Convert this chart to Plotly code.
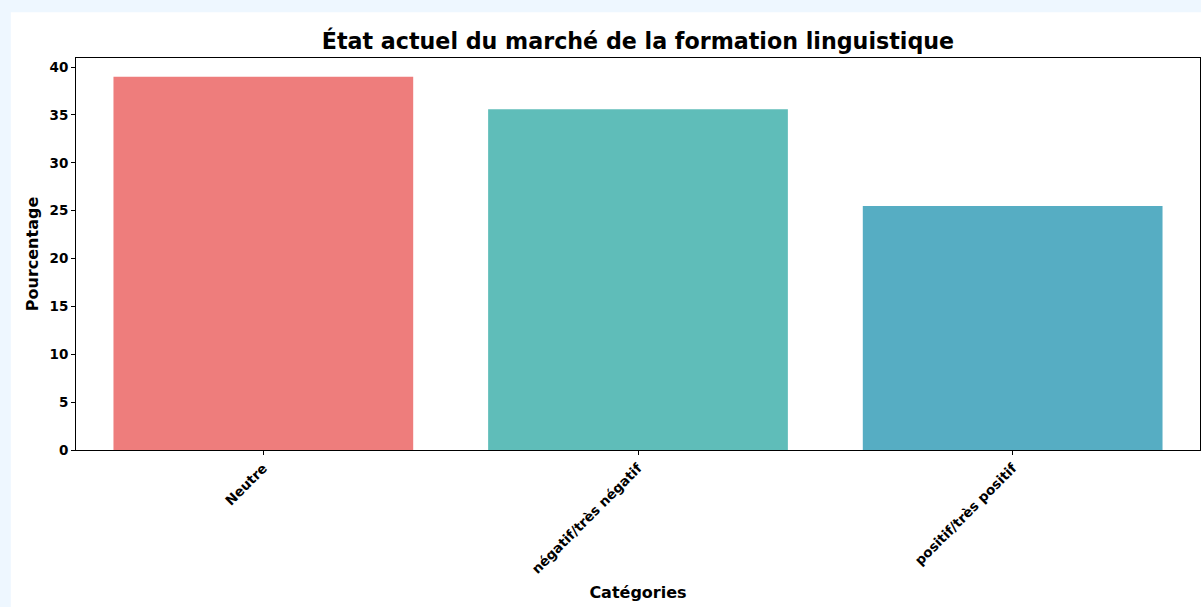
import plotly.graph_objects as go

categories = ['Neutre', 'négatif/très négatif', 'positif/très positif']
percentages = [39.0, 35.6, 25.5]
bar_colors = ['#EE7D7C', '#5FBDB9', '#56ADC3']
y_ticks = [0, 5, 10, 15, 20, 25, 30, 35, 40]

font_family = 'DejaVu Sans'
page_bg = '#EEF7FF'

fig = go.Figure([
    go.Bar(x=categories, y=percentages,
           marker=dict(color=bar_colors, line=dict(width=0)),
           width=0.8)
])

# white figure area on a light blue page
fig.add_shape(type='rect', xref='paper', yref='paper',
              x0=-0.058, x1=1.1, y0=-0.5, y1=1.117,
              fillcolor='white', line=dict(width=0), layer='below')

fig.update_layout(
    width=1201, height=607,
    margin=dict(l=76, r=1, t=58, b=157),
    paper_bgcolor=page_bg,
    plot_bgcolor='white',
    showlegend=False,
    font=dict(family=font_family, color='black'),
    title=dict(text='<b>État actuel du marché de la formation linguistique</b>',
               font=dict(size=22.2, family=font_family, color='black'),
               x=0.5312, xanchor='center', y=0.9325, yanchor='middle'),
    xaxis=dict(
        title=dict(text='<b>Catégories</b>', font=dict(size=16), standoff=11),
        range=[-0.5, 2.5],
        tickangle=-45,
        tickvals=categories,
        ticktext=['<b>%s</b>' % c for c in categories],
        tickfont=dict(size=13.5),
        ticks='outside', ticklen=4, tickcolor='black',
        showline=True, linecolor='black', linewidth=1, mirror=True,
        showgrid=False,
    ),
    yaxis=dict(
        title=dict(text='<b>Pourcentage</b>', font=dict(size=16), standoff=6),
        range=[0, 40.95],
        tickvals=y_ticks,
        ticktext=['<b>%d</b>' % t for t in y_ticks],
        tickfont=dict(size=13.5),
        ticks='outside', ticklen=4, tickcolor='black',
        showline=True, linecolor='black', linewidth=1, mirror=True,
        showgrid=False, zeroline=False,
    ),
)

fig.write_html('out.html',
               config={'displayModeBar': False},
               post_script="document.body.style.margin='0';"
                           "document.body.style.overflow='hidden';"
                           "document.body.style.background='%s';" % page_bg)
